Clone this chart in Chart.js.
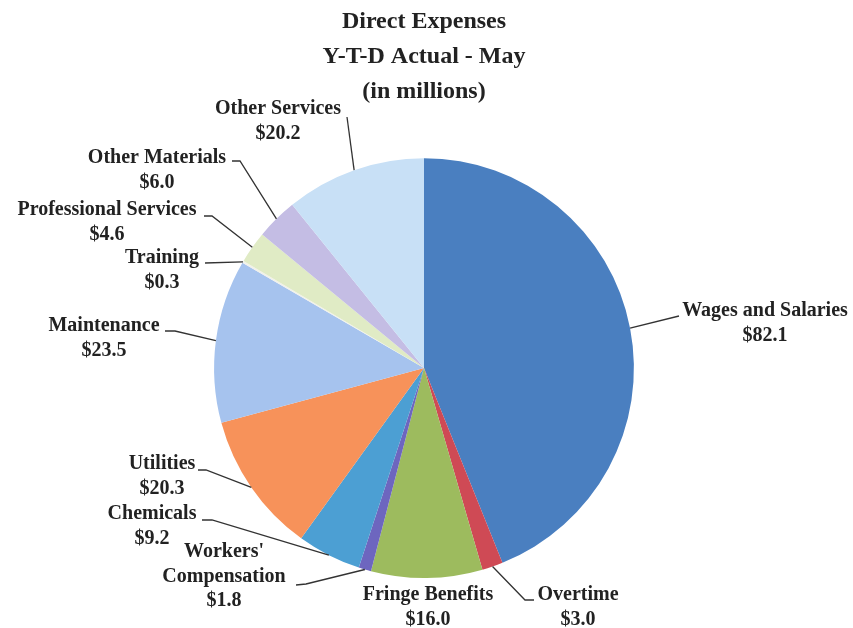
<!DOCTYPE html>
<html>
<head>
<meta charset="utf-8">
<script src="https://cdn.jsdelivr.net/npm/chart.js@4/dist/chart.umd.min.js"></script>
<style>
  html, body { margin: 0; padding: 0; background: #fff; }
  #myChart { display: block; }
</style>
</head>
<body>
<canvas id="myChart" width="853" height="628"></canvas>
<script>
// Direct expenses, year to date, in millions of dollars
const categories = ['Wages and Salaries', 'Overtime', 'Fringe Benefits', "Workers' Compensation",
  'Chemicals', 'Utilities', 'Maintenance', 'Training', 'Professional Services',
  'Other Materials', 'Other Services'];
const expenses = [82.1, 3.0, 16.0, 1.8, 9.2, 20.3, 23.5, 0.3, 4.6, 6.0, 20.2];

// how each label is broken into lines
const labelLines = [
  ['Wages and Salaries'], ['Overtime'], ['Fringe Benefits'], ["Workers'", 'Compensation'],
  ['Chemicals'], ['Utilities'], ['Maintenance'], ['Training'], ['Professional Services'],
  ['Other Materials'], ['Other Services']
];

const sliceColors = ['#4a7fc0', '#cf4a55', '#9dbb5e', '#6d66bf', '#4c9fd3', '#f7925a',
  '#a6c3ee', '#f1f1ea', '#e0ebc5', '#c4bde4', '#c8e0f6'];

// label placement: centre of the first text line
const labelPos = [[765, 311], [578, 595], [428, 595], [224, 552], [152, 514], [162, 464],
  [104, 326], [162, 258], [107, 210], [157, 158], [278, 109]];
// leader line: start next to the text, optional bend, then to the slice edge
const leaderFrom = [[679, 316], [534, 600], null, [296, 585], [202, 520], [198, 470],
  [165, 331], [205, 263], [204, 216], [232, 161], [347, 117]];
const leaderBend = [null, [525, 600], null, [306, 584], [212, 520], [206, 470],
  [175, 331], null, [212, 216], [240, 161], null];

const outsideLabels = {
  id: 'outsideLabels',
  afterDraw(chart) {
    const ctx = chart.ctx;
    const arcs = chart.getDatasetMeta(0).data;
    ctx.save();
    ctx.strokeStyle = '#333';
    ctx.lineWidth = 1.3;
    arcs.forEach((arc, i) => {
      const p = arc.getProps(['x', 'y', 'startAngle', 'endAngle', 'outerRadius'], true);
      const mid = (p.startAngle + p.endAngle) / 2;
      const ex = p.x + Math.cos(mid) * p.outerRadius;
      const ey = p.y + Math.sin(mid) * p.outerRadius;
      if (leaderFrom[i]) {
        ctx.beginPath();
        ctx.moveTo(leaderFrom[i][0], leaderFrom[i][1]);
        if (leaderBend[i]) ctx.lineTo(leaderBend[i][0], leaderBend[i][1]);
        ctx.lineTo(ex, ey);
        ctx.stroke();
      }
    });
    ctx.fillStyle = '#222';
    ctx.font = 'bold 20px "Liberation Serif", "Times New Roman", serif';
    ctx.textAlign = 'center';
    ctx.textBaseline = 'middle';
    categories.forEach((c, i) => {
      const lines = labelLines[i].concat(['$' + expenses[i].toFixed(1)]);
      lines.forEach((t, k) => {
        ctx.fillText(t, labelPos[i][0], labelPos[i][1] + k * 24.5);
      });
    });
    ctx.restore();
  }
};

const ctx = document.getElementById('myChart').getContext('2d');

const myChart = new Chart(ctx, {
  type: 'pie',
  data: {
    labels: categories,
    datasets: [{
      data: expenses,
      backgroundColor: sliceColors,
      borderWidth: 0
    }]
  },
  options: {
    responsive: false,
    animation: false,
    layout: {
      padding: { top: 0, bottom: 50, left: 0, right: 5 }
    },
    plugins: {
      legend: { display: false },
      tooltip: { enabled: false },
      title: {
        display: true,
        text: ['Direct Expenses', 'Y-T-D Actual - May', '(in millions)'],
        color: '#222',
        font: { family: '"Liberation Serif", "Times New Roman", serif', size: 24, weight: 'bold', lineHeight: 1.44 },
        padding: { top: 5, bottom: 49.5 }
      }
    }
  },
  plugins: [outsideLabels]
});
</script>
</body>
</html>
